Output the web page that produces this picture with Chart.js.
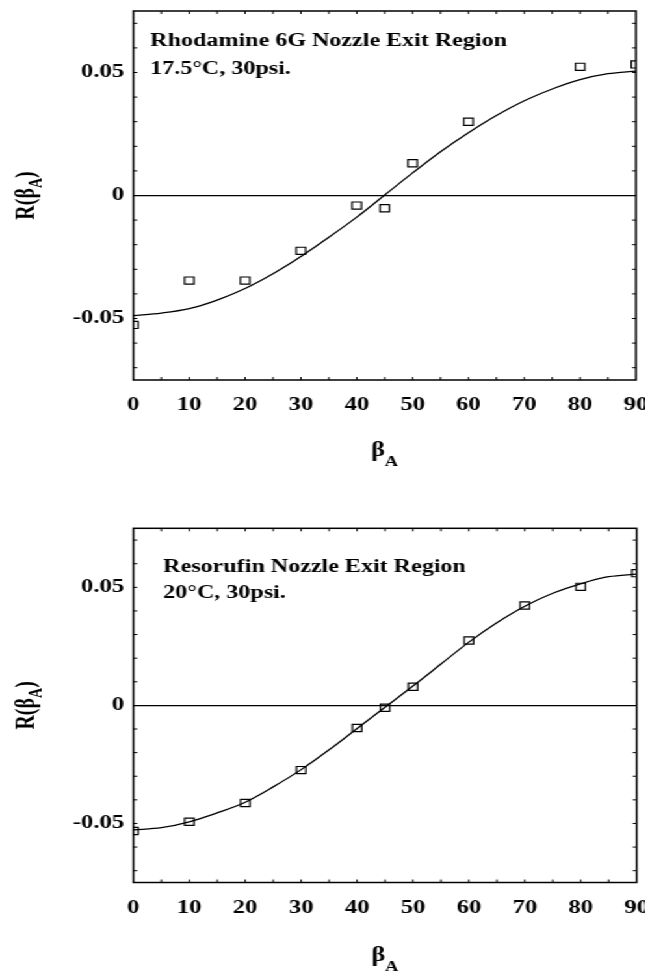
<!DOCTYPE html>
<html>
<head>
<meta charset="utf-8">
<title>R(beta_A) - nozzle exit region</title>
<script src="https://cdn.jsdelivr.net/npm/chart.js@4.4.0/dist/chart.umd.min.js"></script>
<style>
  body { margin: 0; background: #fff; overflow: hidden; }
  /* the original figure is stretched sideways, so the charts are too */
  #stretch { position: absolute; left: 0; top: 0; width: 496px; height: 971px; transform: scaleX(1.3); transform-origin: 0 0; }
  .box { position: absolute; left: 0; width: 496px; }
  #topBox { top: 0; height: 485px; }
  #botBox { top: 485px; height: 486px; }
</style>
</head>
<body>
<div id="stretch">
  <div class="box" id="topBox"><canvas id="topChart"></canvas></div>
  <div class="box" id="botBox"><canvas id="botChart"></canvas></div>
</div>
<script>
// tick values
const xTickValues = [0, 10, 20, 30, 40, 50, 60, 70, 80, 90];
const yTickValues = [-0.05, 0, 0.05];
const xMinorTicks = [5, 10, 15, 20, 25, 30, 35, 40, 45, 50, 55, 60, 65, 70, 75, 80, 85];
const yMinorTicks = [-0.07, -0.06, -0.05, -0.04, -0.03, -0.02, -0.01, 0.01, 0.02, 0.03, 0.04, 0.05, 0.06, 0.07];

// Rhodamine 6G (top panel)
const rhoAngles = [0, 10, 20, 30, 40, 45, 50, 60, 80, 90];
const rhoR = [-0.0526, -0.0346, -0.0346, -0.0225, -0.0041, -0.0052, 0.0131, 0.0300, 0.0523, 0.0533];
const rhoFitAngles = [0, 5, 10, 15, 20, 25, 30, 35, 40, 45, 50, 55, 60, 65, 70, 75, 80, 85, 90];
const rhoFitR = [-0.0488, -0.0478, -0.0460, -0.0425, -0.0378, -0.0318, -0.0248, -0.0170, -0.0088, 0.0002,
                 0.0092, 0.0178, 0.0255, 0.0325, 0.0385, 0.0433, 0.0471, 0.0495, 0.0506];

// Resorufin (bottom panel)
const resAngles = [0, 10, 20, 30, 40, 45, 50, 60, 70, 80, 90];
const resR = [-0.0532, -0.0493, -0.0413, -0.0274, -0.0096, -0.0010, 0.0079, 0.0275, 0.0423, 0.0502, 0.0560];
const resFitAngles = [0, 5, 10, 15, 20, 25, 30, 35, 40, 45, 50, 55, 60, 65, 70, 75, 80, 85, 90];
const resFitR = [-0.0527, -0.0518, -0.0493, -0.0455, -0.0410, -0.0345, -0.0272, -0.0188, -0.0098, -0.0008,
                 0.0082, 0.0175, 0.0268, 0.0350, 0.0420, 0.0475, 0.0515, 0.0545, 0.0556];

const serif = '"Liberation Serif", "Times New Roman", serif';

function pairs(xs, ys) {
  return xs.map((v, i) => ({ x: v, y: ys[i] }));
}

// draws text pieces side by side, some of them as subscripts
function drawPieces(ctx, pieces, cx, baseY) {
  let total = 0;
  pieces.forEach(p => { ctx.font = 'bold ' + p.size + 'px ' + serif; p.w = ctx.measureText(p.t).width; total += p.w; });
  let x = cx - total / 2;
  pieces.forEach(p => {
    ctx.font = 'bold ' + p.size + 'px ' + serif;
    ctx.fillText(p.t, x, baseY + p.dy);
    x += p.w;
  });
}

const framePlugin = {
  id: 'frame',
  afterDatasetsDraw(chart, args, opts) {
    const ctx = chart.ctx, a = chart.chartArea, x = chart.scales.x, y = chart.scales.y;
    ctx.save();
    ctx.strokeStyle = '#000';
    ctx.lineWidth = 1.5;
    ctx.strokeRect(a.left, a.top, a.right - a.left, a.bottom - a.top);

    // small inward ticks on all four sides
    ctx.lineWidth = 1;
    ctx.beginPath();
    xMinorTicks.forEach(v => {
      const px = x.getPixelForValue(v);
      ctx.moveTo(px, a.bottom); ctx.lineTo(px, a.bottom - 3);
      ctx.moveTo(px, a.top); ctx.lineTo(px, a.top + 3);
    });
    yMinorTicks.forEach(v => {
      const py = y.getPixelForValue(v);
      ctx.moveTo(a.left, py); ctx.lineTo(a.left + 3, py);
      ctx.moveTo(a.right, py); ctx.lineTo(a.right - 3, py);
    });
    ctx.stroke();

    ctx.fillStyle = '#000';
    ctx.textAlign = 'left';
    ctx.textBaseline = 'alphabetic';
    ctx.font = 'bold 18.5px ' + serif;
    opts.note.forEach((line, i) => ctx.fillText(line, a.left + opts.noteX, a.top + opts.noteY[i]));

    // x title: beta_A
    drawPieces(ctx, [{ t: 'β', size: 20, dy: 0 }, { t: 'A', size: 14, dy: 10 }],
      (a.left + a.right) / 2, a.bottom + opts.xTitleDy);

    // y title: R(beta_A), rotated
    ctx.translate(19, y.getPixelForValue(0));
    ctx.rotate(-Math.PI / 2);
    drawPieces(ctx, [{ t: 'R(β', size: 20, dy: 0 }, { t: 'A', size: 14, dy: 6 }, { t: ')', size: 20, dy: 0 }], 0, 7);
    ctx.restore();
  }
};

function makeChart(id, pts, fit, frameOpts, padTop, padRight, xAxisHeight) {
  return new Chart(document.getElementById(id), {
    type: 'scatter',
    data: {
      datasets: [{
        type: 'line',
        data: fit,
        borderColor: '#000',
        borderWidth: 1.3,
        pointRadius: 0,
        cubicInterpolationMode: 'monotone',
        fill: false
      }, {
        data: pts,
        pointStyle: 'rect',
        pointRadius: 5.1,
        pointBorderWidth: 1.2,
        pointBorderColor: '#000',
        pointBackgroundColor: 'rgba(0,0,0,0)',
        clip: 0
      }]
    },
    options: {
      responsive: true,
      maintainAspectRatio: false,
      animation: false,
      layout: { padding: { top: padTop, right: padRight, left: 0, bottom: 0 } },
      plugins: { legend: { display: false }, tooltip: { enabled: false }, frame: frameOpts },
      scales: {
        x: {
          type: 'linear', min: 0, max: 90,
          afterBuildTicks: ax => { ax.ticks = xTickValues.map(v => ({ value: v })); },
          afterFit: ax => {
            ax.height = xAxisHeight;
            ax.paddingLeft = 0; ax.paddingRight = 0; ax.paddingTop = 0; ax.paddingBottom = 0;
          },
          grid: { display: false, drawTicks: false },
          border: { display: false },
          ticks: { color: '#000', padding: 14, maxRotation: 0, autoSkip: false,
                   font: { family: serif, weight: 'bold', size: 19 } }
        },
        y: {
          type: 'linear', min: -0.075, max: 0.075,
          afterBuildTicks: ax => { ax.ticks = yTickValues.map(v => ({ value: v })); },
          afterFit: ax => {
            ax.width = 102.6;
            ax.paddingLeft = 0; ax.paddingRight = 0; ax.paddingTop = 0; ax.paddingBottom = 0;
          },
          grid: {
            drawTicks: false,
            lineWidth: 1.2,
            color: c => (c.tick && c.tick.value === 0) ? '#000' : 'rgba(0,0,0,0)'
          },
          border: { display: false },
          ticks: { color: '#000', padding: 7,
                   font: { family: serif, weight: 'bold', size: 19 },
                   callback: v => v === 0 ? '0' : v.toFixed(2) }
        }
      }
    },
    plugins: [framePlugin]
  });
}

makeChart('topChart', pairs(rhoAngles, rhoR), pairs(rhoFitAngles, rhoFitR),
  { note: ['Rhodamine 6G Nozzle Exit Region', '17.5°C, 30psi.'], noteX: 13, noteY: [34.7, 63], xTitleDy: 76 },
  11, 6.8, 105);

makeChart('botChart', pairs(resAngles, resR), pairs(resFitAngles, resFitR),
  { note: ['Resorufin Nozzle Exit Region', '20°C, 30psi.'], noteX: 23, noteY: [43.4, 70], xTitleDy: 78 },
  43.3, 6, 88.5);
</script>
</body>
</html>
